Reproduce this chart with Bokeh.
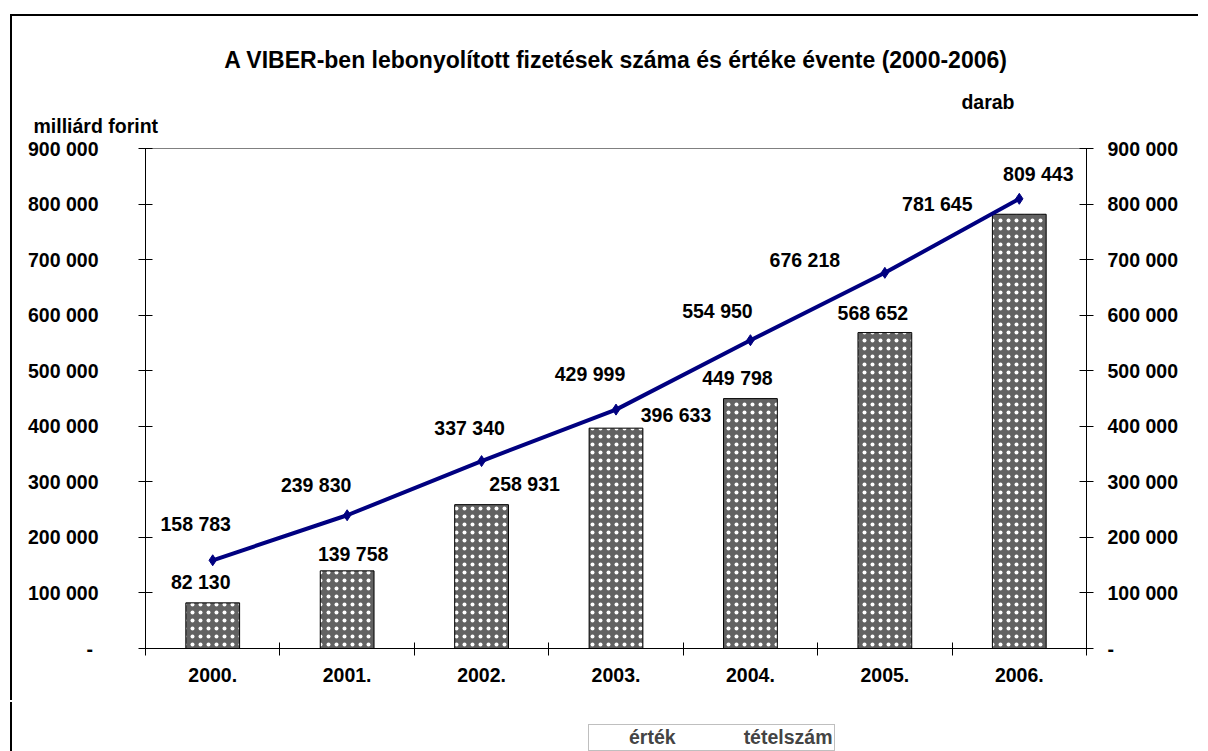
from bokeh.plotting import figure
from bokeh.layouts import column
from bokeh.models import (Range1d, FixedTicker, LinearAxis, Legend, LegendItem,
                          Title, ColumnDataSource)
from bokeh.embed import file_html
from bokeh.resources import INLINE
from bokeh.core.properties import value

# ---------------- data ----------------
years = ["2000.", "2001.", "2002.", "2003.", "2004.", "2005.", "2006."]
ertek = [82130, 139758, 258931, 396633, 449798, 568652, 781645]          # bars (milliárd forint)
tetelszam = [158783, 239830, 337340, 429999, 554950, 676218, 809443]      # line (darab)
y_ticks = [0, 100000, 200000, 300000, 400000, 500000, 600000, 700000, 800000, 900000]
y_tick_labels = ["-\u00a0", "100 000", "200 000", "300 000", "400 000", "500 000",
                 "600 000", "700 000", "800 000", "900 000"]
title_text = "A VIBER-ben lebonyolított fizetések száma és értéke évente (2000-2006)"
left_unit = "milliárd forint"
right_unit = "darab"
legend_labels = ["érték", "tételszám"]

# label offsets (pixels) – placement only
bar_dx = [-12, 6, 43, 60, -13, -12, -82]
bar_dy = [-21, -17, -21, -13, -21, -20, -10]
line_dx = [-17, -31, -12, -26, -33, -80, 19]
line_dy = [-36, -30, -33, -36, -29, -13, -25]

FONT = "Liberation Sans"
FS = "19.5px"
BAR_STYLE = dict(fill_color="#626262", line_color="black", line_width=1,
                 hatch_pattern="dot", hatch_color="white", hatch_scale=8, hatch_weight=10)
LINE_COLOR = "#000080"

def fmt(v):
    return f"{v:,}".replace(",", " ")

xs = [i + 0.5 for i in range(len(years))]

bar_src = ColumnDataSource(dict(x=xs, top=ertek, lab=[fmt(v) for v in ertek],
                                dx=bar_dx, dy=bar_dy))
line_src = ColumnDataSource(dict(x=xs, y=tetelszam, lab=[fmt(v) for v in tetelszam],
                                 dx=line_dx, dy=line_dy))

p = figure(frame_width=941, frame_height=500, output_backend="svg", toolbar_location=None,
           x_range=Range1d(0, 7), y_range=Range1d(0, 900000),
           min_border_left=133, min_border_top=130, min_border_right=114,
           min_border_bottom=54)
p.styles = {"position": "relative", "left": "12px", "top": "16px",
            "box-shadow": "-2px -2px 0px 0px black"}
p.xgrid.visible = False
p.ygrid.visible = False
p.outline_line_color = "#808080"
p.outline_line_width = 1
p.background_fill_color = "white"
p.border_fill_color = "white"

p.vbar(x="x", top="top", width=0.40, source=bar_src, **BAR_STYLE)
p.line(x="x", y="y", source=line_src, line_color=LINE_COLOR, line_width=4)
p.scatter(x="x", y="y", source=line_src, marker="diamond", size=11,
          fill_color=LINE_COLOR, line_color=LINE_COLOR)

p.text(x="x", y="top", text="lab", source=bar_src, x_offset="dx", y_offset="dy",
       text_align="center", text_baseline="middle", text_font=value(FONT),
       text_font_size=FS, text_font_style="bold", text_color="black")
p.text(x="x", y="y", text="lab", source=line_src, x_offset="dx", y_offset="dy",
       text_align="center", text_baseline="middle", text_font=value(FONT),
       text_font_size=FS, text_font_style="bold", text_color="black")

# x axis
xa = p.xaxis[0]
xa.ticker = FixedTicker(ticks=xs, minor_ticks=list(range(len(years) + 1)))
xa.major_label_overrides = {x: y for x, y in zip(xs, years)}
xa.major_tick_in = 0
xa.major_tick_out = 0
xa.minor_tick_in = 6
xa.minor_tick_out = 7
xa.minor_tick_line_color = "black"
xa.axis_line_color = "black"
xa.major_label_standoff = 12
xa.major_label_text_font = FONT
xa.major_label_text_font_size = FS
xa.major_label_text_font_style = "bold"
xa.major_label_text_color = "black"

def style_y(ax, standoff):
    ax.ticker = FixedTicker(ticks=y_ticks, minor_ticks=[])
    ax.major_label_overrides = {t: l for t, l in zip(y_ticks, y_tick_labels)}
    ax.major_tick_in = 7
    ax.major_tick_out = 7
    ax.minor_tick_in = 0
    ax.minor_tick_out = 0
    ax.axis_line_color = "black"
    ax.major_tick_line_color = "black"
    ax.major_label_standoff = standoff
    ax.major_label_text_font = FONT
    ax.major_label_text_font_size = FS
    ax.major_label_text_font_style = "bold"
    ax.major_label_text_color = "black"

style_y(p.yaxis[0], 40)
ra = LinearAxis()
style_y(ra, 14)
p.add_layout(ra, "right")

# unit labels and title (stacked above the frame, nearest first)
t_left = Title(text=left_unit, align="left", offset=-112, standoff=23,
               text_font=FONT, text_font_size=FS, text_font_style="bold",
               text_color="black")
t_right = Title(text=right_unit, align="right", offset=72, standoff=-23,
                text_font=FONT, text_font_size=FS, text_font_style="bold",
                text_color="black")
t_main = Title(text=title_text, align="center", standoff=56,
               text_font=FONT, text_font_size="23px", text_font_style="bold",
               text_color="black")
p.add_layout(t_left, "above")
p.add_layout(t_right, "above")
p.add_layout(t_main, "above")

# ---------------- legend strip (separate small figure below the chart) ----------------
lf = figure(width=1188, height=49, output_backend="svg", toolbar_location=None,
            x_range=Range1d(0, 1), y_range=Range1d(0, 1),
            x_axis_type=None, y_axis_type=None,
            min_border_left=0, min_border_right=0, min_border_top=0, min_border_bottom=0)
lf.styles = {"position": "relative", "left": "12px", "top": "16px",
             "box-shadow": "-2px 0px 0px 0px black"}
lf.xgrid.visible = False
lf.ygrid.visible = False
lf.outline_line_color = None
lf.background_fill_color = "white"
lf.border_fill_color = "white"

empty_bar = ColumnDataSource(dict(x=[], top=[]))
empty_line = ColumnDataSource(dict(x=[], y=[]))
lb = lf.vbar(x="x", top="top", width=0.1, source=empty_bar, **BAR_STYLE)
ll = lf.line(x="x", y="y", source=empty_line, line_color=LINE_COLOR, line_width=4)
lp = lf.scatter(x="x", y="y", source=empty_line, marker="diamond", size=11,
                fill_color=LINE_COLOR, line_color=LINE_COLOR)

legend = Legend(items=[LegendItem(label=legend_labels[0], renderers=[lb]),
                       LegendItem(label=legend_labels[1], renderers=[ll, lp])],
                orientation="horizontal", location=(443, 0))
legend.label_text_font = FONT
legend.label_text_font_size = FS
legend.label_text_font_style = "bold"
legend.border_line_color = "#808080"
legend.border_line_width = 1
legend.background_fill_color = "white"
legend.padding = 1
legend.margin = 0
legend.spacing = 29
legend.glyph_width = 34
legend.glyph_height = 12
legend.label_standoff = 5
legend.label_height = 16
lf.add_layout(legend)

layout = column(p, lf, spacing=0)
open("out.html", "w").write(file_html(layout, INLINE))
